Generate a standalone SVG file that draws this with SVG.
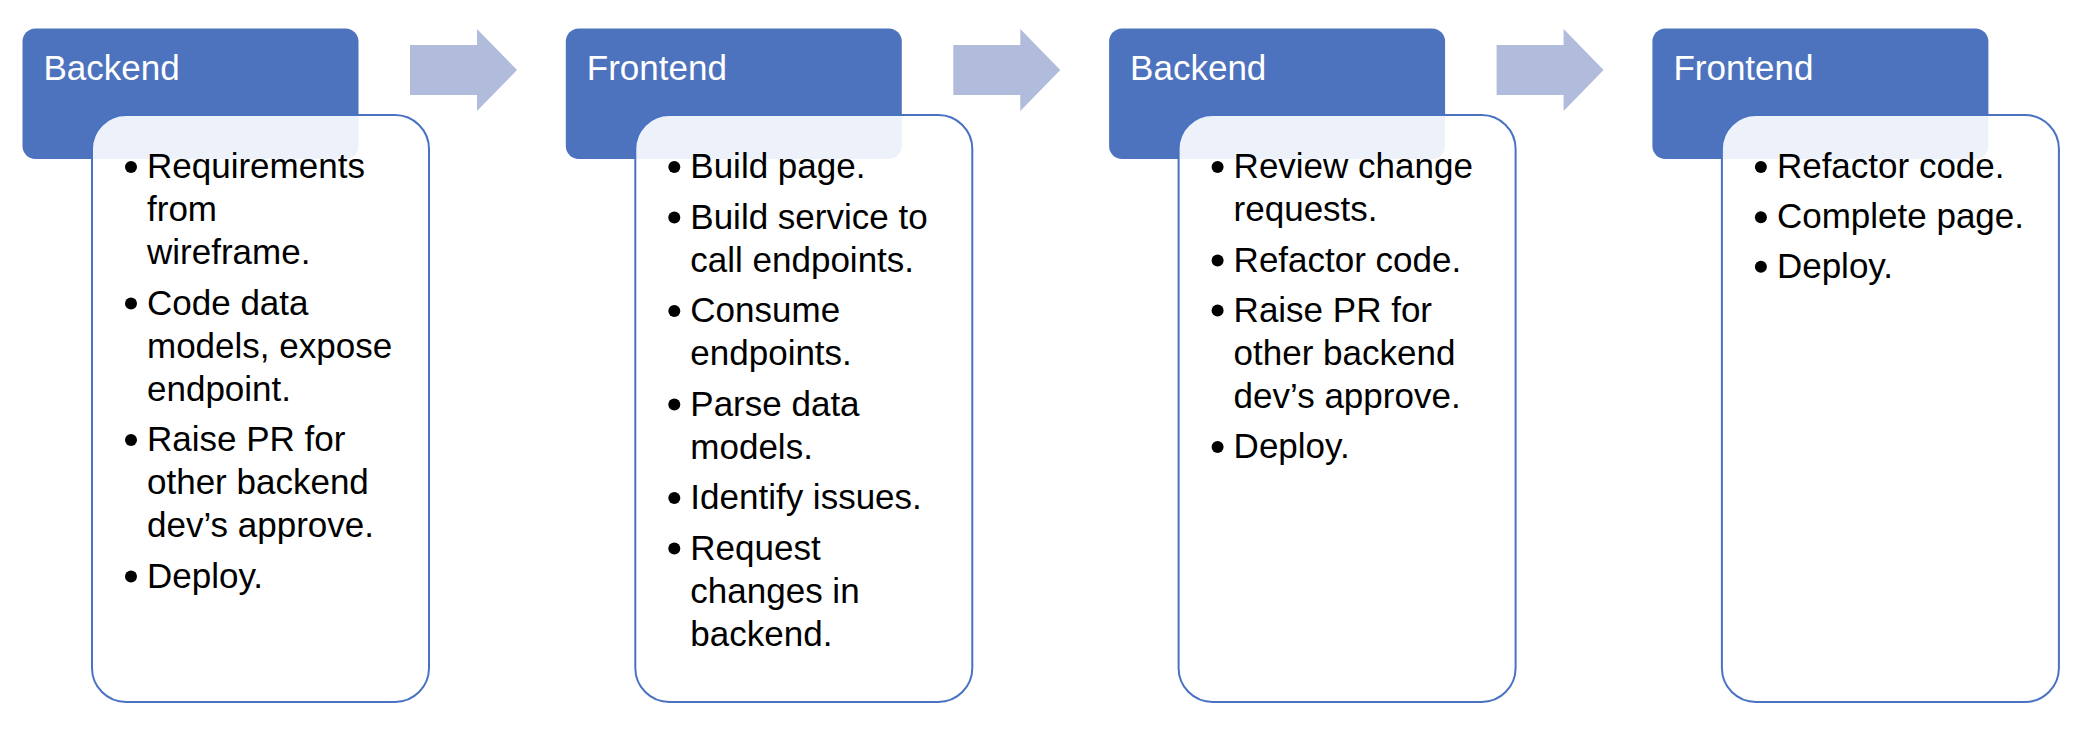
<svg xmlns="http://www.w3.org/2000/svg" width="2098" height="740" viewBox="0 0 2098 740">
  <style>
    .hdr { fill: #4E73BE; }
    .box { fill: #FFFFFF; fill-opacity: 0.9; stroke: #4A72C2; stroke-width: 2; }
    .arrow { fill: #B1BCDC; }
    .htxt { font-family: "Liberation Sans", Arial, sans-serif; font-size: 35px; fill: #FFFFFF; }
    .btxt { font-family: "Liberation Sans", Arial, sans-serif; font-size: 35px; fill: #000000; }
    .dot { fill: #000000; }
  </style>
  <rect width="2098" height="740" fill="#FFFFFF"/>

  <g id="connectors">
    <path class="arrow" d="M410,45 H477 V29 L517,70 L477,111 V95 H410 Z"/>
    <path class="arrow" d="M410,45 H477 V29 L517,70 L477,111 V95 H410 Z" transform="translate(543.3,0)"/>
    <path class="arrow" d="M410,45 H477 V29 L517,70 L477,111 V95 H410 Z" transform="translate(1086.6,0)"/>
  </g>

  <g id="panel1">
    <rect class="hdr" x="22.5" y="28.5" width="336" height="130.5" rx="13"/>
    <text class="htxt" x="43.5" y="80">Backend</text>
    <rect class="box" x="92" y="115" width="337" height="587" rx="34"/>
    <circle class="dot" cx="131" cy="167" r="6"/>
    <text class="btxt" x="147" y="178">Requirements</text>
    <text class="btxt" x="147" y="221">from</text>
    <text class="btxt" x="147" y="264">wireframe.</text>
    <circle class="dot" cx="131" cy="303.5" r="6"/>
    <text class="btxt" x="147" y="314.5">Code data</text>
    <text class="btxt" x="147" y="357.5">models, expose</text>
    <text class="btxt" x="147" y="400.5">endpoint.</text>
    <circle class="dot" cx="131" cy="440" r="6"/>
    <text class="btxt" x="147" y="451">Raise PR for</text>
    <text class="btxt" x="147" y="494">other backend</text>
    <text class="btxt" x="147" y="537">dev’s approve.</text>
    <circle class="dot" cx="131" cy="576.5" r="6"/>
    <text class="btxt" x="147" y="587.5">Deploy.</text>
  </g>

  <g id="panel2" transform="translate(543.3,0)">
    <rect class="hdr" x="22.5" y="28.5" width="336" height="130.5" rx="13"/>
    <text class="htxt" x="43.5" y="80">Frontend</text>
    <rect class="box" x="92" y="115" width="337" height="587" rx="34"/>
    <circle class="dot" cx="131" cy="167" r="6"/>
    <text class="btxt" x="147" y="178">Build page.</text>
    <circle class="dot" cx="131" cy="217.5" r="6"/>
    <text class="btxt" x="147" y="228.5">Build service to</text>
    <text class="btxt" x="147" y="271.5">call endpoints.</text>
    <circle class="dot" cx="131" cy="311" r="6"/>
    <text class="btxt" x="147" y="322">Consume</text>
    <text class="btxt" x="147" y="365">endpoints.</text>
    <circle class="dot" cx="131" cy="404.5" r="6"/>
    <text class="btxt" x="147" y="415.5">Parse data</text>
    <text class="btxt" x="147" y="458.5">models.</text>
    <circle class="dot" cx="131" cy="498" r="6"/>
    <text class="btxt" x="147" y="509">Identify issues.</text>
    <circle class="dot" cx="131" cy="548.5" r="6"/>
    <text class="btxt" x="147" y="559.5">Request</text>
    <text class="btxt" x="147" y="602.5">changes in</text>
    <text class="btxt" x="147" y="645.5">backend.</text>
  </g>

  <g id="panel3" transform="translate(1086.6,0)">
    <rect class="hdr" x="22.5" y="28.5" width="336" height="130.5" rx="13"/>
    <text class="htxt" x="43.5" y="80">Backend</text>
    <rect class="box" x="92" y="115" width="337" height="587" rx="34"/>
    <circle class="dot" cx="131" cy="167" r="6"/>
    <text class="btxt" x="147" y="178">Review change</text>
    <text class="btxt" x="147" y="221">requests.</text>
    <circle class="dot" cx="131" cy="260.5" r="6"/>
    <text class="btxt" x="147" y="271.5">Refactor code.</text>
    <circle class="dot" cx="131" cy="310.5" r="6"/>
    <text class="btxt" x="147" y="321.5">Raise PR for</text>
    <text class="btxt" x="147" y="364.5">other backend</text>
    <text class="btxt" x="147" y="407.5">dev’s approve.</text>
    <circle class="dot" cx="131" cy="447" r="6"/>
    <text class="btxt" x="147" y="458">Deploy.</text>
  </g>

  <g id="panel4" transform="translate(1629.9,0)">
    <rect class="hdr" x="22.5" y="28.5" width="336" height="130.5" rx="13"/>
    <text class="htxt" x="43.5" y="80">Frontend</text>
    <rect class="box" x="92" y="115" width="337" height="587" rx="34"/>
    <circle class="dot" cx="131" cy="167" r="6"/>
    <text class="btxt" x="147" y="178">Refactor code.</text>
    <circle class="dot" cx="131" cy="217.3" r="6"/>
    <text class="btxt" x="147" y="228.3">Complete page.</text>
    <circle class="dot" cx="131" cy="266.7" r="6"/>
    <text class="btxt" x="147" y="277.7">Deploy.</text>
  </g>
</svg>
